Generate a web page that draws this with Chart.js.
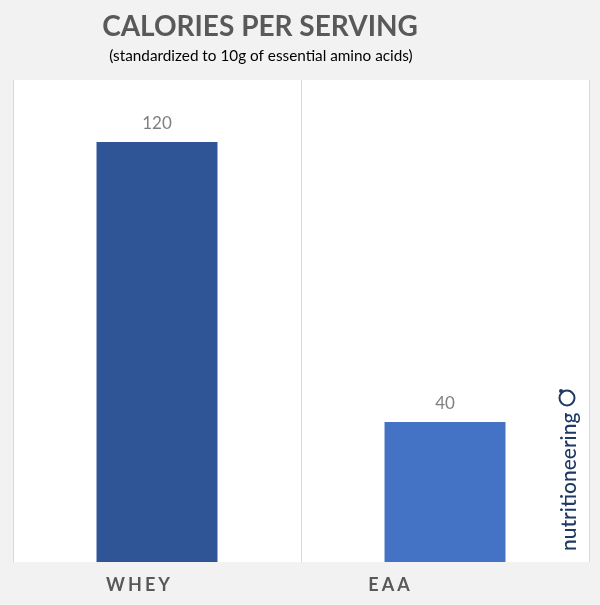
<!DOCTYPE html>
<html><head><meta charset="utf-8">
<script src="https://cdn.jsdelivr.net/npm/chart.js@4/dist/chart.umd.min.js"></script>
<style>html,body{margin:0;padding:0;background:#f2f2f2}#wrap{width:600px;height:605px}</style>
</head><body><div id="wrap"><canvas id="c" width="600" height="605"></canvas></div>
<script>
const categories = ['WHEY', 'EAA'];
const calories = [120, 40];
const barColors = ['#2f5597', '#4472c4'];
const titleText = 'CALORIES PER SERVING';
const subtitleText = '(standardized to 10g of essential amino acids)';
const brandText = 'nutritioneering';
const yMax = 137.7;

const decor = {
  id: 'decor',
  beforeDraw(chart) {
    const {ctx, chartArea: a} = chart;
    ctx.save();
    ctx.fillStyle = '#f2f2f2';
    ctx.fillRect(0, 0, chart.width, chart.height);
    ctx.fillStyle = '#ffffff';
    ctx.fillRect(a.left, a.top, a.right - a.left, a.bottom - a.top);
    ctx.restore();
  },
  afterDraw(chart) {
    const {ctx} = chart;
    const xs = chart.scales.x;
    ctx.save();
    ctx.textAlign = 'center';
    ctx.textBaseline = 'middle';
    // titles
    ctx.fillStyle = '#595959';
    ctx.font = 'bold 28px Lato, "Open Sans", sans-serif';
    ctx.fillText(titleText, 260, 27);
    ctx.fillStyle = '#000000';
    ctx.font = '15.3px Lato, "Open Sans", sans-serif';
    ctx.fillText(subtitleText, 261, 56);
    // data labels
    ctx.fillStyle = '#7f7f7f';
    ctx.font = '17px Lato, "Open Sans", sans-serif';
    const meta = chart.getDatasetMeta(0);
    meta.data.forEach((bar, i) => {
      ctx.fillText(String(calories[i]), bar.x, bar.y - 18);
    });
    // category labels
    ctx.fillStyle = '#595959';
    ctx.font = 'bold 18px Lato, "Open Sans", sans-serif';
    ctx.letterSpacing = '3px';
    const shifts = [-19, -56];
    categories.forEach((c, i) => {
      ctx.fillText(c, xs.getPixelForValue(i) + shifts[i] + 1.5, 585);
    });
    ctx.letterSpacing = '0px';
    // brand
    ctx.save();
    ctx.translate(569, 551);
    ctx.rotate(-Math.PI / 2);
    ctx.textAlign = 'left';
    ctx.fillStyle = '#1f3864';
    ctx.font = '500 21px Lato, "Open Sans", sans-serif';
    ctx.fillText(brandText, 0, 0);
    ctx.restore();
    ctx.strokeStyle = '#1f3864';
    ctx.lineWidth = 2;
    ctx.beginPath();
    ctx.arc(567, 398, 7.5, 0, Math.PI * 2);
    ctx.stroke();
    ctx.fillStyle = '#1f3864';
    ctx.beginPath(); ctx.arc(561, 391, 2, 0, Math.PI * 2); ctx.fill();
    ctx.restore();
  }
};

new Chart(document.getElementById('c'), {
  type: 'bar',
  data: {
    labels: categories,
    datasets: [{
      data: calories,
      backgroundColor: barColors,
      borderWidth: 0,
      categoryPercentage: 1,
      barPercentage: 0.42
    }]
  },
  options: {
    responsive: false,
    animation: false,
    layout: {padding: {top: 80, left: 13, right: 11, bottom: 43}},
    plugins: {legend: {display: false}, tooltip: {enabled: false}, title: {display: false}},
    scales: {
      x: {
        display: true,
        grid: {offset: true, color: '#d9d9d9', drawTicks: false, lineWidth: 1},
        border: {display: false},
        ticks: {display: false}
      },
      y: {display: false, min: 0, max: yMax}
    }
  },
  plugins: [decor]
});
</script></body></html>
